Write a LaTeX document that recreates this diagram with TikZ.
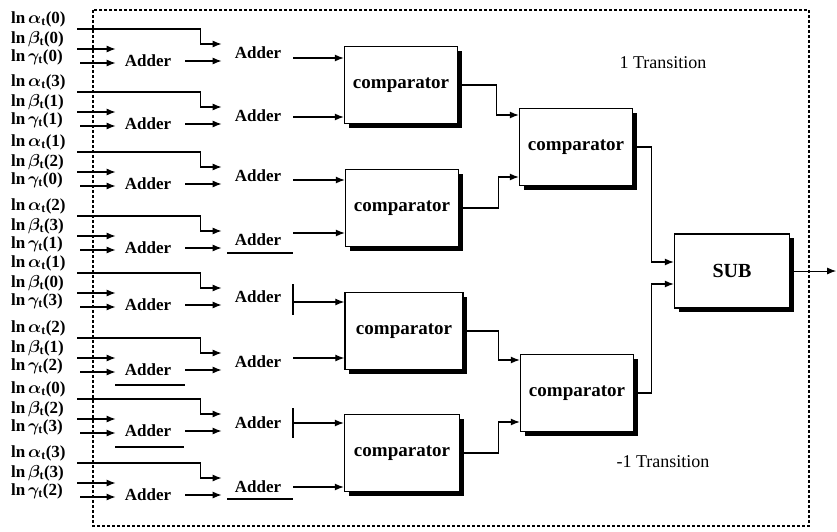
\documentclass[tikz,border=0pt]{standalone}
\usepackage{fontspec}
\setmainfont{Liberation Serif}
\usepackage{amsmath}
\usepackage{bm}
\usetikzlibrary{arrows.meta, shadows}

\newcommand{\lnlbl}[2]{\textbf{ln}\,$\bm{#1}_{\mathbf{t}}$\textbf{(#2)}}

\begin{document}
\begin{tikzpicture}[x=1pt, y=-1pt,
  lbl/.style={anchor=west, inner sep=0pt, font=\fontsize{17}{17}\selectfont},
  adder/.style={inner sep=0pt, font=\bfseries\fontsize{17}{17}\selectfont},
  cmp/.style={draw, line width=1.4pt, fill=white, minimum width=113pt, minimum height=77pt,
    font=\bfseries\fontsize{19}{19}\selectfont,
    drop shadow={shadow xshift=4pt, shadow yshift=-4pt, fill=black, opacity=1}},
  arr/.style={-{Latex[length=9pt,width=7pt]}, line width=1.2pt}]
  \useasboundingbox (0,0) rectangle (837,531);
  \draw[dash pattern=on 3pt off 2pt, line width=1.1pt] (93,10) rectangle (809,526);

  % comparators and subtractor
  \node[cmp] (cmpA) at (401,85) {comparator};
  \node[cmp] (cmpB) at (402,208) {comparator};
  \node[cmp, minimum width=118pt] (cmpC) at (404,331) {comparator};
  \node[cmp, minimum width=115pt] (cmpD) at (402,453) {comparator};
  \node[cmp] (cmpE) at (576,147) {comparator};
  \node[cmp] (cmpF) at (577,393) {comparator};
  \node[cmp, minimum width=115pt, minimum height=74pt, font=\bfseries\fontsize{20}{20}\selectfont] (sub) at (732,271) {SUB};
  \coordinate (out) at (836,271);

  \node[font=\fontsize{18}{18}\selectfont] (tp) at (663,63) {1 Transition};
  \node[font=\fontsize{18}{18}\selectfont] (tm) at (663,462) {-1 Transition};

  % eight adder groups
  \foreach \i/\b/\al/\be/\ga/\cy/\cmp in {1/29/0/0/0/58/cmpA, 2/92/3/1/1/117/cmpA,
      3/152/1/2/0/180/cmpB, 4/216/2/3/1/233/cmpB, 5/273/1/0/3/302/cmpC,
      6/338/2/1/2/358/cmpC, 7/399/0/2/3/423/cmpD, 8/463/3/3/2/487/cmpD}{
    \node[lbl] (la\i) at (11,\b-10) {\lnlbl{\alpha}{\al}};
    \node[lbl] (lb\i) at (11,\b+10) {\lnlbl{\beta}{\be}};
    \node[lbl] (lg\i) at (11,\b+28) {\lnlbl{\gamma}{\ga}};
    \node[adder] (ad1-\i) at (148,\b+32) {Adder};
    \node[adder] (ad2-\i) at (258,\b+24) {Adder};
    \coordinate (as\i) at (77,\b);
    \coordinate (bs\i) at (77,\b+20);
    \coordinate (gs\i) at (80,\b+34);
    \coordinate (ao\i) at (293,\cy);
    \draw[arr, shorten >=13pt] (as\i) -| ([xshift=-34pt,yshift=9pt]ad2-\i.west) -- ([yshift=9pt]ad2-\i.west);
    \draw[arr, shorten >=9pt] (bs\i) -- (bs\i -| ad1-\i.west);
    \draw[arr, shorten >=9pt] (gs\i) -- (gs\i -| ad1-\i.west);
    \draw[arr, shorten <=14pt, shorten >=13pt] (ad1-\i.east) -- (ad1-\i.east -| ad2-\i.west);
    \draw[arr] (ao\i) -- (ao\i -| \cmp.west);
  }

  % stray marks next to some adders
  \draw[line width=1.2pt] (227,253) -- (293,253);
  \draw[line width=1.2pt] (293,284) -- (293,315);
  \draw[line width=1.2pt] (115,385) -- (185,385);
  \draw[line width=1.2pt] (115,447) -- (184,447);
  \draw[line width=1.2pt] (293,408) -- (293,438);
  \draw[line width=1.2pt] (227,499) -- (293,499);

  \draw[arr] (cmpA.east) -- ++(38,0) |- ([yshift=32pt]cmpE.west);
  \draw[arr] (cmpB.east) -- ++(39,0) |- ([yshift=-30pt]cmpE.west);
  \draw[arr] (cmpC.east) -- ++(35,0) |- ([yshift=33pt]cmpF.west);
  \draw[arr] (cmpD.east) -- ++(38,0) |- ([yshift=-29pt]cmpF.west);
  \draw[arr] (cmpE.east) -- ++(18,0) |- ([yshift=9pt]sub.west);
  \draw[arr] (cmpF.east) -- ++(17,0) |- ([yshift=-13pt]sub.west);
  \draw[arr, line width=0.8pt] (sub.east) -- (out);
\end{tikzpicture}
\end{document}
